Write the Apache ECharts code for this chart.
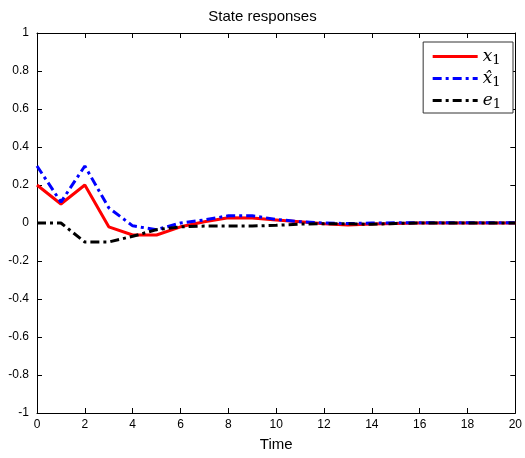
<!DOCTYPE html>
<html><head><meta charset="utf-8">
<script src="https://cdn.jsdelivr.net/npm/echarts@6/dist/echarts.min.js"></script>
<style>html,body{margin:0;padding:0;background:#fff}#c{width:525px;height:458px}</style>
</head><body><div id="c"></div>
<script>
const time = [0,1,2,3,4,5,6,7,8,9,10,11,12,13,14,15,16,17,18,19,20];
const x1 =    [0.2,0.1,0.2,-0.02,-0.063,-0.063,-0.02,0.007,0.028,0.026,0.016,0.006,-0.004,-0.01,-0.005,-0.002,0,0,0,0,0];
const x1hat = [0.3,0.11,0.3,0.08,-0.015,-0.035,0.0,0.016,0.038,0.038,0.019,0.007,0.0,-0.003,0.0,0.001,0.001,0.001,0.001,0.001,0.001];
const e1 =    [0,0,-0.1,-0.1,-0.07,-0.035,-0.02,-0.016,-0.016,-0.016,-0.012,-0.006,-0.004,-0.004,-0.007,-0.002,0,0,0,0,0];
const xTicks = [0,2,4,6,8,10,12,14,16,18,20];
const yTicks = [-1,-0.8,-0.6,-0.4,-0.2,0,0.2,0.4,0.6,0.8,1];
const names = ['x1','x1hat','e1'];

const chart = echarts.init(document.getElementById('c'));
const pair = a => time.map((t,i)=>[t,a[i]]);
const axisCommon = () => ({
  axisLine:{onZero:false,lineStyle:{color:'#000',width:1}},
  axisTick:{inside:true,length:5,lineStyle:{color:'#000'}},
  splitLine:{show:false}
});
chart.setOption({
  animation:false,
  title:{text:'State responses',left:'center',top:4,textStyle:{fontFamily:'Liberation Sans, Arial',fontSize:15,fontWeight:'normal',color:'#000'}},
  grid:{left:37,right:8,top:33,bottom:45},
  legend:{
    data:names, orient:'vertical', right:12, top:42, itemWidth:45, itemHeight:12, itemGap:3,
    backgroundColor:'#fff', borderColor:'#333', borderWidth:1, padding:[6,12,2,8],
    itemStyle:{opacity:0}, lineStyle:{width:3},
    formatter: n => n==='x1' ? '{i|x}{s|1}' : n==='x1hat' ? '{i|x\u0302}{s|1}' : '{i|e}{s|1}',
    textStyle:{rich:{i:{fontFamily:'DejaVu Serif',fontStyle:'italic',fontSize:17,color:'#000'},s:{fontFamily:'DejaVu Serif',fontSize:13,color:'#000',verticalAlign:'bottom',padding:[8,0,0,0]}}}
  },
  xAxis:[
    Object.assign(axisCommon(),{type:'value',min:0,max:20,interval:2,position:'bottom',name:'Time',nameLocation:'middle',nameGap:24,
      nameTextStyle:{fontFamily:'Liberation Sans, Arial',fontSize:15,color:'#000'},
      axisLabel:{fontFamily:'Liberation Sans, Arial',fontSize:12,color:'#000',margin:6}}),
    Object.assign(axisCommon(),{type:'value',min:0,max:20,interval:2,position:'top',axisLabel:{show:false}})
  ],
  yAxis:[
    Object.assign(axisCommon(),{type:'value',min:-1,max:1,interval:0.2,position:'left',
      axisLabel:{fontFamily:'Liberation Sans, Arial',fontSize:12,color:'#000',margin:8,formatter:v=>String(+v.toFixed(1))}}),
    Object.assign(axisCommon(),{type:'value',min:-1,max:1,interval:0.2,position:'right',axisLabel:{show:false}})
  ],
  series:[
    {name:'x1',type:'line',data:pair(x1),symbol:'none',lineStyle:{color:'#ff0000',width:3},itemStyle:{color:'#ff0000'},z:3},
    {name:'x1hat',type:'line',data:pair(x1hat),symbol:'none',lineStyle:{color:'#0000ff',width:3,type:[9,4,3,4]},itemStyle:{color:'#0000ff'},z:4},
    {name:'e1',type:'line',data:pair(e1),symbol:'none',lineStyle:{color:'#000',width:3,type:[9,4,3,4]},itemStyle:{color:'#000'},z:5}
  ]
});
</script></body></html>
